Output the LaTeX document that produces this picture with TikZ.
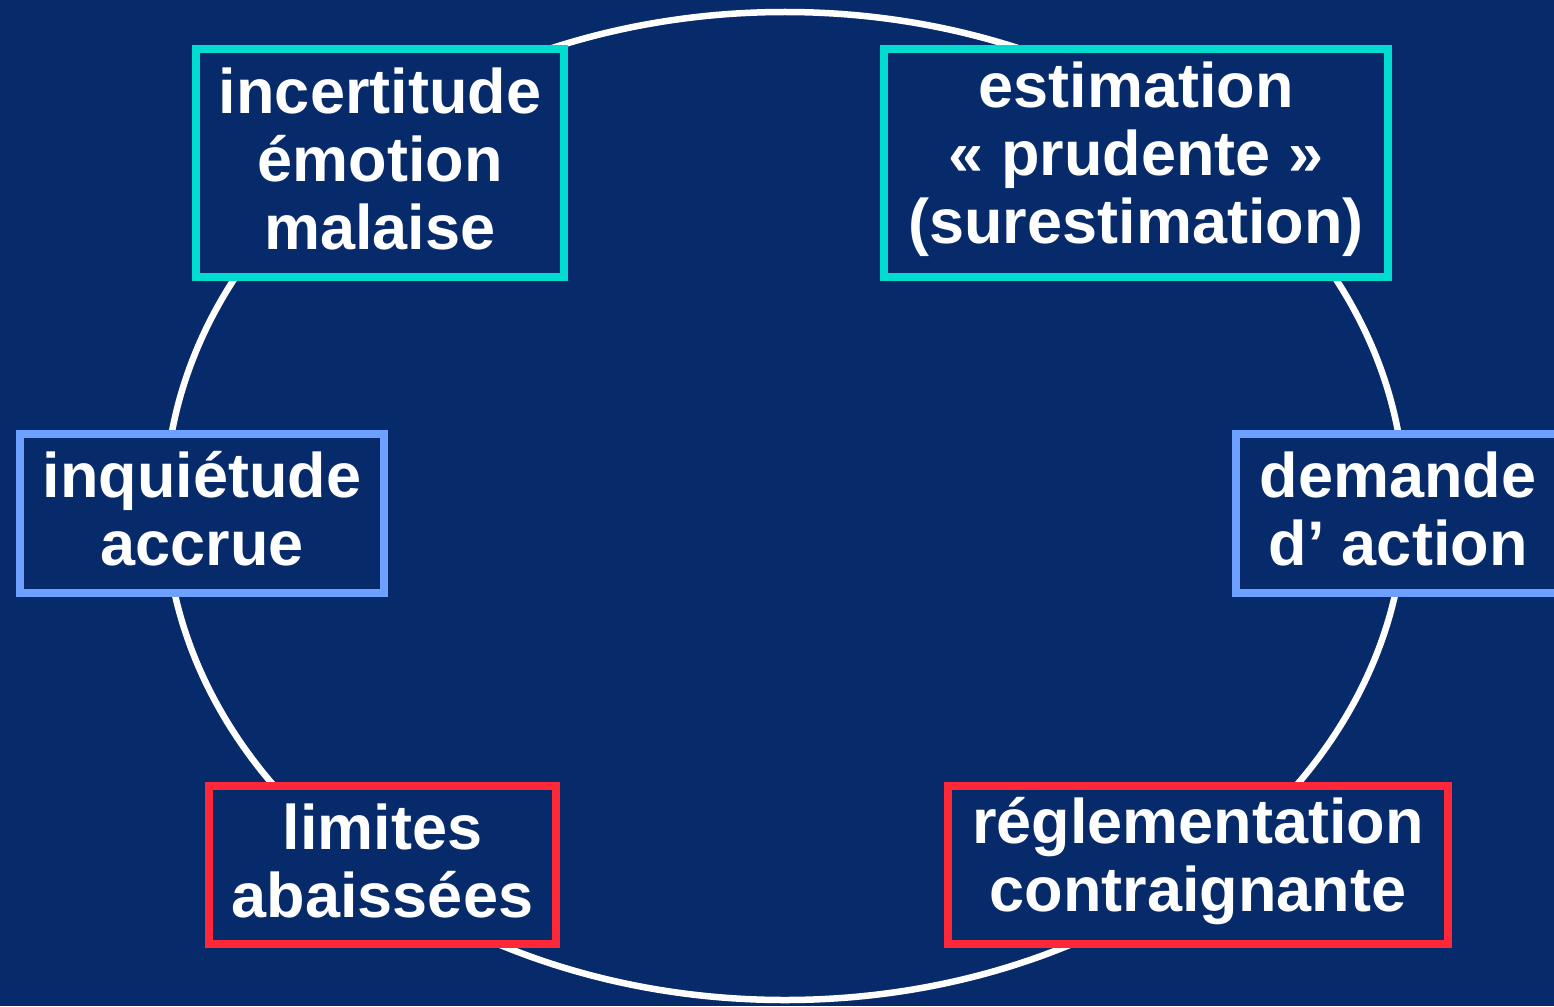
\documentclass[tikz,border=0pt]{standalone}
\usepackage{fontspec}
\setmainfont{Liberation Sans}
\definecolor{bg}{HTML}{062A6A}
\definecolor{cy}{HTML}{00DDD0}
\definecolor{lb}{HTML}{6EA0FF}
\definecolor{rd}{HTML}{FF2838}
\begin{document}
\begin{tikzpicture}[x=1pt,y=-1pt,
  box/.style={draw,line width=8.5pt,fill=bg,inner sep=0pt},
  cybox/.style={box,draw=cy},
  lbbox/.style={box,draw=lb},
  rdbox/.style={box,draw=rd},
  txt/.style={text=white,align=center,inner sep=0pt,
    font=\bfseries\fontsize{63}{68}\selectfont}]
\fill[bg] (0,0) rectangle (1554,1006);
\useasboundingbox (0,0) rectangle (1554,1006);
\draw[white,line width=6.5pt] (785,506) ellipse [x radius=620pt, y radius=494pt];
\node[cybox,minimum width=368pt,minimum height=228pt] (a) at (380,163) {};
\node[txt] (at) at (380,159) {incertitude\\émotion\\malaise};
\node[cybox,minimum width=504pt,minimum height=228pt] (b) at (1136,163) {};
\node[txt] (bt) at (1136,159) {estimation\\« prudente »\\(surestimation)};
\node[lbbox,minimum width=364pt,minimum height=159pt] (c) at (202,513.5) {};
\node[txt] (ct) at (202,509) {inquiétude\\accrue};
\node[lbbox,minimum width=330pt,minimum height=159pt] (d) at (1401,513.5) {};
\node[txt] (dt) at (1398,509) {demande\\d’ action};
\node[rdbox,minimum width=347pt,minimum height=158pt] (e) at (382.5,865) {};
\node[txt] (et) at (382.5,861) {limites\\abaissées};
\node[rdbox,minimum width=500pt,minimum height=158pt] (f) at (1198,865) {};
\node[txt] (ft) at (1198,861) {réglementation\\contraignante};
\end{tikzpicture}
\end{document}
